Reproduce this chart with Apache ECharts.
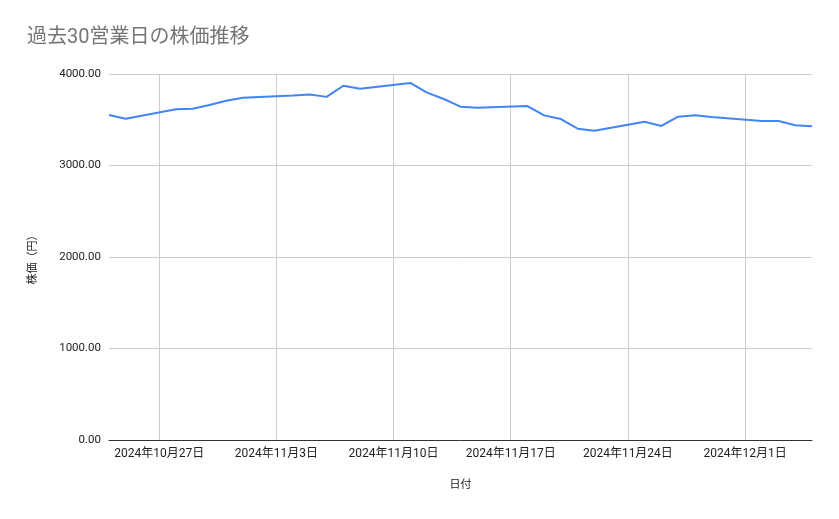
<!DOCTYPE html>
<html><head><meta charset="utf-8">
<script src="https://cdn.jsdelivr.net/npm/echarts@6/dist/echarts.min.js"></script>
<style>html,body{margin:0;padding:0;background:#fff}#c{width:839px;height:519px}</style>
</head><body><div id="c"></div>
<script>
const dates = ['2024-10-24','2024-10-25','2024-10-28','2024-10-29','2024-10-30','2024-10-31','2024-11-01',
  '2024-11-04','2024-11-05','2024-11-06','2024-11-07','2024-11-08',
  '2024-11-11','2024-11-12','2024-11-13','2024-11-14','2024-11-15',
  '2024-11-18','2024-11-19','2024-11-20','2024-11-21','2024-11-22',
  '2024-11-25','2024-11-26','2024-11-27','2024-11-28','2024-11-29',
  '2024-12-02','2024-12-03','2024-12-04','2024-12-05'];
const prices = [3552,3512,3614,3620,3661,3708,3741,
  3765,3775,3750,3872,3840,
  3902,3796,3727,3643,3632,
  3650,3548,3508,3402,3380,
  3479,3432,3534,3548,3530,
  3486,3486,3439,3428];
const xTickDates = ['2024-10-27','2024-11-03','2024-11-10','2024-11-17','2024-11-24','2024-12-01'];
const yTicks = [0,1000,2000,3000,4000];

const DAY = 864e5;
const origin = Date.UTC(2024,9,24);
function toOffset(s){const p=s.split('-').map(Number);return Math.round((Date.UTC(p[0],p[1]-1,p[2])-origin)/DAY);}
const data = dates.map((d,i)=>[toOffset(d), prices[i]]);
const xTicks = xTickDates.map(toOffset);
const font = "Roboto, Arial, 'Noto Sans CJK JP', sans-serif";

const chart = echarts.init(document.getElementById('c'), null, {renderer:'canvas'});
chart.setOption({
  animation:false,
  title:{text:'過去30営業日の株価推移', left:22, top:23,
    textStyle:{color:'#757575', fontSize:20, fontWeight:'normal', fontFamily:font}},
  grid:{left:109, right:27, top:74, bottom:79, containLabel:false},
  xAxis:{type:'value', min:toOffset(dates[0]), max:toOffset(dates[dates.length-1]),
    name:'日付', nameLocation:'middle', nameGap:40,
    nameTextStyle:{color:'#222', fontSize:11, fontFamily:font},
    axisLine:{show:true, lineStyle:{color:'#333', width:1}},
    axisTick:{show:false, customValues:xTicks},
    splitLine:{show:true, showMinLine:true, showMaxLine:true, lineStyle:{color:'#cccccc', width:1}},
    axisLabel:{color:'#222', fontSize:12, fontFamily:font, margin:8, customValues:xTicks,
      formatter:function(v){ const d=new Date(origin+v*DAY);
        return d.getUTCFullYear()+'年'+(d.getUTCMonth()+1)+'月'+d.getUTCDate()+'日'; }}
  },
  yAxis:{type:'value', min:yTicks[0], max:yTicks[yTicks.length-1], interval:1000,
    name:'株価（円）', nameLocation:'middle', nameGap:70, nameRotate:90,
    nameTextStyle:{color:'#222', fontSize:11, fontFamily:font},
    axisLine:{show:false}, axisTick:{show:false},
    splitLine:{show:true, lineStyle:{color:'#cccccc', width:1}},
    axisLabel:{color:'#222', fontSize:11.5, fontFamily:font, margin:8,
      formatter:function(v){return v.toFixed(2);}}
  },
  series:[{type:'line', data:data, showSymbol:false, symbol:'none',
    lineStyle:{color:'#4285F4', width:2}, itemStyle:{color:'#4285F4'}}]
});
</script></body></html>
